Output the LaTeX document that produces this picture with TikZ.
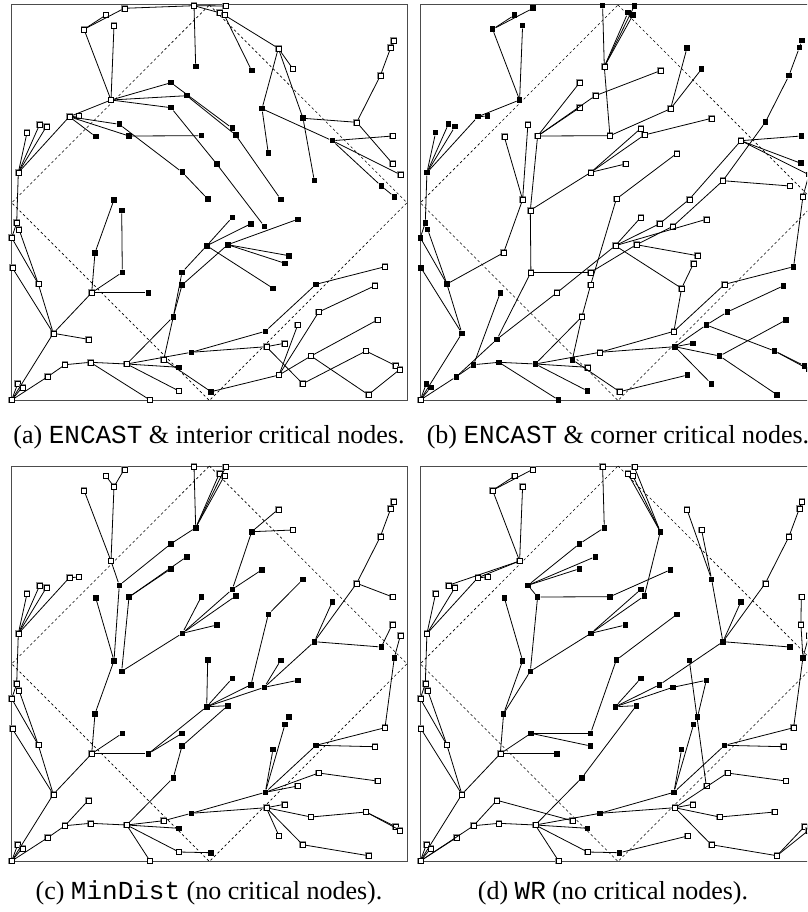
\documentclass[tikz,border=0pt]{standalone}
\usepackage{fontspec}
\setmainfont{Liberation Serif}
\setmonofont{Liberation Mono}
\tikzset{
  crit/.style={rectangle, fill=black, inner sep=0pt, minimum size=5.6pt},
  plain/.style={rectangle, draw=black, fill=white, line width=0.5pt, inner sep=0pt, minimum size=5pt,
    preaction={draw=black!45, line width=1.5pt}},
  edge/.style={line width=0.8pt, black},
  frame/.style={draw=black!70, line width=1pt},
  diam/.style={dash pattern=on 2.5pt off 2.5pt, line width=0.6pt},
  captext/.style={font=\fontsize{26}{30}\selectfont, inner sep=0pt}
}
\def\pts{1/84/29.3/0, 2/106/15/0, 3/124.3/8.3/0, 4/114/25.7/0, 5/194/5.7/0, 6/225.7/6/0, 7/219.3/12.7/0, 8/224.3/15/0, 9/278.3/48.3/0, 10/293/69/0,
11/251.7/70.7/1, 12/195.7/66.7/1, 13/393.3/40.7/0, 14/390.7/47.7/0, 15/380.3/75.7/0, 16/171/82.7/1, 17/186.7/95.7/1, 18/111/100/0, 19/171/107.7/1, 20/262/108.7/1,
21/303/118.3/1, 22/356.7/122.3/0, 23/69.3/116.7/0, 24/79/116/0, 25/119.3/124.3/1, 26/232.3/128.3/1, 27/235.7/135/1, 28/95.7/136.7/1, 29/129/136/1, 30/201.3/135.7/1,
31/27/132.7/0, 32/39.7/124.3/0, 33/46.3/126.7/0, 34/332.3/140.7/1, 35/392.7/136/0, 36/18.3/172.7/0, 37/182.3/172.3/1, 38/216.7/164/1, 39/268.3/153.3/1, 40/314.3/180.7/1,
41/392.3/163.3/0, 42/400.3/174.7/0, 43/381.3/186/1, 44/394.3/196.7/1, 45/207.7/199/1, 46/280.7/199.3/1, 47/114/199.7/1, 48/121.7/210.3/1, 49/232.3/217.3/1, 50/251/223.7/1,
51/264.3/226.3/1, 52/297.7/219.3/1, 53/206.7/245.7/1, 54/227.7/244.7/1, 55/289/255.7/1, 56/285/263.3/1, 57/16.7/222.7/0, 58/19/229.3/0, 59/11.7/237.7/0, 60/95/252.7/1,
61/12.3/267.7/0, 62/385/266.7/0, 63/38.3/284/0, 64/122.3/272.3/1, 65/182/272.3/1, 66/182/285/1, 67/273/288.3/1, 68/91.7/292.7/0, 69/148.3/292.7/1, 70/316/284.3/1,
71/375/285.7/0, 72/318.7/312/0, 73/173.3/316.7/1, 74/53.3/333.3/0, 75/88.3/339.3/0, 76/265.3/331.3/1, 77/297.7/325/0, 78/377.3/320/0, 79/284.3/343.3/0, 80/266.3/346.7/0,
81/191.3/352.3/1, 82/163.7/359.7/0, 83/311/356/0, 84/366/351/0, 85/65/364.7/0, 86/90.3/362.3/0, 87/126.7/364/0, 88/179/367.3/1, 89/47.7/376.7/0, 90/279/375/0,
91/302.7/383.7/0, 92/395.7/365.7/0, 93/400/369.3/0, 94/17.7/383.7/0, 95/22.3/387.3/0, 96/211/391.7/1, 97/179/391/0, 98/368.3/394.7/0, 99/11.7/400/2, 100/150/400/0}
\def\edgesA{1/2,1/3,3/5,5/6,5/7,7/8,5/12,8/9,8/11,9/10,9/20,9/21,1/18,4/18,18/16,18/17,18/19,18/23,16/26,17/27,23/24,23/25,23/29,23/28,25/37,29/30,19/38,13/14,14/15,15/22,21/22,20/34,22/41,21/40,20/39,23/36,31/36,32/36,33/36,27/46,37/45,38/51,34/35,34/43,34/42,43/44,47/60,48/64,53/49,53/50,54/52,54/55,54/56,36/57,57/59,58/63,59/63,60/68,64/68,68/69,68/74,74/75,74/99,61/74,63/74,53/65,54/66,65/73,66/73,73/87,73/82,53/67,87/86,85/86,89/85,99/89,99/94,99/95,86/100,87/88,87/97,87/81,81/76,81/80,76/70,70/62,80/79,80/91,91/84,84/92,96/90,90/77,90/72,72/71,90/83,83/78,83/98,98/93,82/96}
\def\edgesB{1/2,1/3,1/18,4/18,18/23,23/24,5/12,12/30,12/6,12/7,12/8,29/30,29/16,29/19,29/17,17/11,30/20,20/9,20/10,27/21,22/15,15/14,14/13,22/40,34/35,34/41,34/42,40/43,42/44,44/62,36/31,36/32,36/33,36/23,25/47,28/47,47/60,29/48,48/37,37/26,37/27,37/38,39/45,45/66,34/46,46/50,50/53,53/49,53/52,40/51,51/54,54/55,53/67,56/67,67/76,36/57,57/59,58/63,59/63,60/63,61/74,63/74,74/99,85/68,75/64,64/65,48/64,66/73,73/82,73/87,87/86,86/85,85/89,89/99,86/100,87/88,87/97,82/96,96/90,87/81,81/80,81/76,76/70,70/62,80/79,80/77,77/72,72/71,77/84,84/92,84/93,80/83,83/78,83/98,80/91,99/94,99/95,89/75,75/69,53/69,54/65}
\def\edgesC{4/2,4/3,4/18,1/18,18/25,25/16,16/12,12/5,12/6,12/7,12/8,29/19,29/17,11/9,11/10,11/26,26/20,13/14,14/15,15/22,22/35,22/40,40/43,40/34,40/51,51/46,51/52,53/51,53/45,53/49,53/50,53/54,50/39,39/21,41/43,42/44,44/62,36/31,36/32,36/33,36/23,23/24,28/47,25/47,47/60,29/48,48/37,37/30,37/26,37/27,37/38,53/69,54/66,60/68,68/64,68/69,68/74,74/99,61/74,63/74,65/69,66/73,73/87,87/86,86/85,85/75,85/89,89/99,99/94,99/95,87/82,82/81,81/80,81/76,87/88,87/97,97/96,87/100,76/67,76/56,76/70,70/71,70/62,76/77,76/72,72/78,80/79,80/90,80/91,91/98,80/83,83/84,84/92,84/93,36/57,57/59,58/63,59/63}
\def\edgesD{1/2,1/3,1/18,4/18,18/23,18/32,23/24,5/12,12/16,16/25,25/17,25/19,25/29,11/6,11/7,11/8,11/27,9/21,10/21,21/40,13/14,14/15,15/22,29/30,30/20,36/31,36/33,36/23,28/47,29/48,47/60,48/60,48/37,37/38,37/26,37/27,39/45,45/65,53/49,53/50,53/51,53/54,51/52,52/55,50/40,40/43,40/34,40/22,46/77,35/41,41/44,44/42,44/62,61/74,63/74,74/99,60/68,68/64,64/65,64/66,68/69,68/74,73/87,73/54,75/82,75/85,99/85,99/89,99/94,99/95,86/87,86/85,87/81,87/88,87/97,87/100,97/96,96/90,81/76,81/80,76/67,76/56,76/70,70/71,70/62,80/79,80/72,80/83,80/91,83/84,72/78,91/98,98/92,98/93,36/57,57/59,58/63,59/63}
% #1 prefix, #2 dx, #3 dy, #4 fill code, #5 edge list
\newcommand\drawpanel[5]{%
  \begin{scope}[shift={(#2,#3)}]
    \draw[frame] (11.7,5) rectangle (407,400.5);
    \draw[diam] (209.4,5) -- (407,202.8) -- (209.4,400.5) -- (11.7,202.8) -- cycle;
    \foreach \n/\x/\y/\f in \pts {%
      \ifnum\f=#4\relax
        \node[crit] (#1\n) at (\x,\y) {};
      \else
        \node[plain] (#1\n) at (\x,\y) {};
      \fi
    }
    \foreach \u/\v in #5 {\draw[edge] (#1\u) -- (#1\v);}
  \end{scope}}
\begin{document}
\begin{tikzpicture}[x=1pt,y=-1pt]
  \useasboundingbox (0,0) rectangle (807,912);
  \clip (0,0) rectangle (807,912);
  \fill[white] (0,0) rectangle (807,912);
  \drawpanel{a}{0}{0}{1}{\edgesA}
  \drawpanel{b}{408.6}{0}{0}{\edgesB}
  \drawpanel{c}{0}{461}{1}{\edgesC}
  \drawpanel{d}{408.6}{461}{1}{\edgesD}
  \node[captext] (capa) at (209,437) {(a) \texttt{ENCAST} \& interior critical nodes.};
  \node[captext] (capb) at (618,437) {(b) \texttt{ENCAST} \& corner critical nodes.};
  \node[captext] (capc) at (209,893) {(c) \texttt{MinDist} (no critical nodes).};
  \node[captext] (capd) at (613,893) {(d) \texttt{WR} (no critical nodes).};
\end{tikzpicture}
\end{document}
